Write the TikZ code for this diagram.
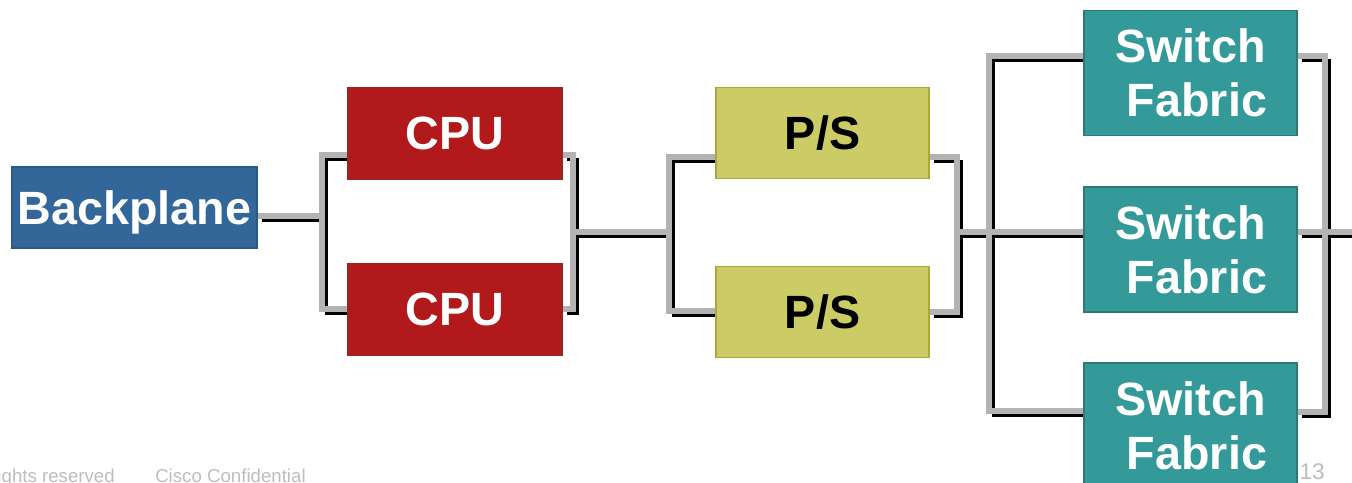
\documentclass[tikz,border=0pt]{standalone}
\usepackage{fontspec}
\setmainfont{Liberation Sans}
\usetikzlibrary{positioning, calc}
\pgfdeclarelayer{background}
\pgfsetlayers{background,main}
\definecolor{planeblue}{HTML}{336699}
\definecolor{planeedge}{HTML}{2B5A88}
\definecolor{cpured}{HTML}{B1191A}
\definecolor{cpuedge}{HTML}{9A2525}
\definecolor{psyellow}{HTML}{CCCC66}
\definecolor{psedge}{HTML}{A8A83A}
\definecolor{fabricteal}{HTML}{339999}
\definecolor{fabricedge}{HTML}{2B7A77}
\definecolor{wiregray}{HTML}{B3B3B3}
\definecolor{footgray}{HTML}{BDBDBD}
\tikzset{
    unit/.style={draw, rectangle, inner sep=0pt, line width=0.8pt,
      font=\fontsize{35}{40.5}\selectfont\bfseries, text depth=0pt},
    planebox/.style={unit, fill=planeblue, draw=planeedge, text=white,
      minimum width=183.75pt, minimum height=60.75pt},
    cpubox/.style={unit, fill=cpured, draw=cpuedge, text=white,
      minimum width=160.5pt, minimum height=69pt},
    psbox/.style={unit, fill=psyellow, draw=psedge, text=black,
      minimum width=159.75pt, minimum height=68.25pt},
    fabricbox/.style={unit, fill=fabricteal, draw=fabricedge, text=white,
      minimum width=159.75pt, minimum height=93.75pt, align=center,
      text depth=-5pt},
    wire/.style={draw=wiregray, line width=4.1pt},
    wireshade/.style={draw=black, line width=2.25pt,
      transform canvas={shift={(3pt,-3pt)}}},
    footer/.style={text=footgray, inner sep=0pt},
}

\begin{document}
\begin{tikzpicture}[x=0.75pt, y=-0.75pt]
    \useasboundingbox (0,0) rectangle (1352,482);

    % boxes
    \node[planebox] (bp) at (134.5,207.5) {Backplane};
    \node[cpubox] (cpu1) at (455,133.5) {CPU};
    \node[cpubox] (cpu2) at (455,309.5) {CPU};
    \node[psbox] (ps1) at (822.5,133) {P/S};
    \node[psbox] (ps2) at (822.5,312) {P/S};
    \node[fabricbox] (sf1) at (1190.5,73) {Switch\\~Fabric};
    \node[fabricbox] (sf2) at (1190.5,249.5) {Switch\\~Fabric};
    \node[fabricbox] (sf3) at (1190.5,425.5) {Switch\\~Fabric};

    % bracket corners and joins
    \coordinate (cpuL) at (322,216);
    \coordinate (cpuLt) at (322,155);
    \coordinate (cpuLb) at (322,309);
    \coordinate (cpuR) at (573,232);
    \coordinate (cpuRt) at (573,155);
    \coordinate (cpuRb) at (573,309);
    \coordinate (psL) at (669,232);
    \coordinate (psLt) at (669,157);
    \coordinate (psLb) at (669,311);
    \coordinate (psR) at (957,232);
    \coordinate (psRt) at (957,157);
    \coordinate (psRb) at (957,312);
    \coordinate (sfLt) at (989,56);
    \coordinate (sfLb) at (989,411);
    \coordinate (sfR) at (1325,232);
    \coordinate (sfRt) at (1325,56);
    \coordinate (sfRb) at (1325,412);
    \coordinate (out) at (1352,232);

    \begin{pgfonlayer}{background}
    \foreach \look in {wireshade, wire}{
      \draw[\look] (bp.east |- cpuL) -- (cpuL);
      \draw[\look] (cpu1.west |- cpuLt) -- (cpuLt) -- (cpuLb) -- (cpu2.west |- cpuLb);
      \draw[\look] (cpu1.east |- cpuRt) -- (cpuRt) -- (cpuRb) -- (cpu2.east |- cpuRb);
      \draw[\look] (cpuR) -- (psL);
      \draw[\look] (ps1.west |- psLt) -- (psLt) -- (psLb) -- (ps2.west |- psLb);
      \draw[\look] (ps1.east |- psRt) -- (psRt) -- (psRb) -- (ps2.east |- psRb);
      \draw[\look] (psR) -- (sf2.west |- psR);
      \draw[\look] (sf1.west |- sfLt) -- (sfLt) -- (sfLb) -- (sf3.west |- sfLb);
      \draw[\look] (sf1.east |- sfRt) -- (sfRt) -- (sfRb) -- (sf3.east |- sfRb);
      \draw[\look] (sf2.east |- sfR) -- (sfR) -- (out);
    }
    \end{pgfonlayer}

    % slide footer
    \node[footer, anchor=base east, font=\fontsize{14}{14}\selectfont] (rights) at (115,482.5) {ights reserved};
    \node[footer, anchor=base west, font=\fontsize{14}{14}\selectfont] (conf) at (155,482.5) {Cisco Confidential};
    \node[footer, anchor=base east, font=\fontsize{17}{17}\selectfont] (page) at (1325,479) {13};
\end{tikzpicture}
\end{document}
